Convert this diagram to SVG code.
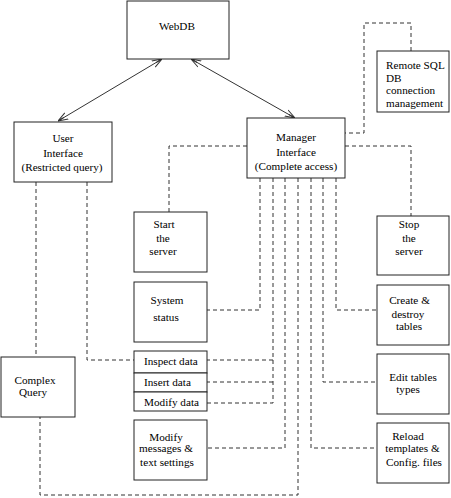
<svg xmlns="http://www.w3.org/2000/svg" width="451" height="498" viewBox="0 0 451 498">
<defs>
<style>
.box{fill:#fff;stroke:#222;stroke-width:1}
.t{font-family:'Liberation Serif','DejaVu Serif','Times New Roman',serif;font-size:11.2px;fill:#000}
.c{text-anchor:middle}
.d{fill:none;stroke:#333;stroke-width:1;stroke-dasharray:4,3}
.a{fill:none;stroke:#333;stroke-width:1}
</style>
<marker id="ah" viewBox="0 0 10 10" refX="10" refY="5" markerWidth="10" markerHeight="10" markerUnits="userSpaceOnUse" orient="auto-start-reverse">
<path d="M0,1.5 L10,5 L0,8.5 M3,5 L10,5" fill="none" stroke="#333" stroke-width="1"/>
</marker>
</defs>
<rect width="451" height="498" fill="#fff"/>
<g id="connectors">
<line class="a" x1="162" y1="59" x2="58" y2="121" marker-start="url(#ah)" marker-end="url(#ah)"/>
<line class="a" x1="191" y1="59" x2="295" y2="118" marker-start="url(#ah)" marker-end="url(#ah)"/>
<path class="d" d="M411,51 V23 H364 V133 H345"/>
<path class="d" d="M247,146 H169 V212"/>
<path class="d" d="M345,146 H411 V216"/>
<path class="d" d="M260,178 V310 H207"/>
<path class="d" d="M336,178 V310 H377"/>
<path class="d" d="M273,178 V403 H207"/>
<path class="d" d="M273,360 H207"/>
<path class="d" d="M273,382 H207"/>
<path class="d" d="M285,178 V448 H207"/>
<path class="d" d="M298,178 V495 H40 V417"/>
<path class="d" d="M311,178 V448 H377"/>
<path class="d" d="M323,178 V382 H377"/>
<path class="d" d="M36,182 V357"/>
<path class="d" d="M87,182 V360 H134"/>
</g>
<g id="webdb">
<rect class="box" x="127" y="1" width="102" height="58"/>
<text class="t c" x="177" y="29.5" font-family="Liberation Serif, serif">WebDB</text>
</g>
<g id="remote-sql">
<rect class="box" x="377" y="51" width="72" height="61"/>
<text class="t" x="386" y="69">Remote SQL</text>
<text class="t" x="386" y="81.5">DB</text>
<text class="t" x="386" y="94">connection</text>
<text class="t" x="386" y="107">management</text>
</g>
<g id="user-interface">
<rect class="box" x="14" y="122" width="98" height="60"/>
<text class="t c" x="63" y="142">User</text>
<text class="t c" x="63" y="157">Interface</text>
<text class="t c" x="62" y="171">(Restricted query)</text>
</g>
<g id="manager-interface">
<rect class="box" x="247" y="118" width="98" height="60"/>
<text class="t c" x="296" y="141">Manager</text>
<text class="t c" x="296" y="156">Interface</text>
<text class="t c" x="296" y="170">(Complete access)</text>
</g>
<g id="start-server">
<rect class="box" x="134" y="212" width="73" height="60"/>
<text class="t c" x="164" y="228">Start</text>
<text class="t c" x="163" y="242">the</text>
<text class="t c" x="163" y="255">server</text>
</g>
<g id="stop-server">
<rect class="box" x="377" y="216" width="72" height="59"/>
<text class="t c" x="409" y="228">Stop</text>
<text class="t c" x="409" y="242">the</text>
<text class="t c" x="409" y="255">server</text>
</g>
<g id="system-status">
<rect class="box" x="134" y="282" width="73" height="60"/>
<text class="t c" x="167" y="304">System</text>
<text class="t c" x="166" y="321">status</text>
</g>
<g id="create-destroy">
<rect class="box" x="377" y="285" width="72" height="60"/>
<text class="t c" x="409.5" y="304">Create &amp;</text>
<text class="t c" x="408" y="318">destroy</text>
<text class="t c" x="409" y="330">tables</text>
</g>
<g id="data-ops">
<rect class="box" x="134" y="351" width="73" height="22"/>
<rect class="box" x="134" y="373" width="73" height="19"/>
<rect class="box" x="134" y="392" width="73" height="19"/>
<text class="t" x="144" y="365">Inspect data</text>
<text class="t" x="144" y="386">Insert data</text>
<text class="t" x="144" y="405.5">Modify data</text>
</g>
<g id="complex-query">
<rect class="box" x="1" y="357" width="74" height="60"/>
<text class="t c" x="35" y="384">Complex</text>
<text class="t c" x="33" y="396">Query</text>
</g>
<g id="edit-tables">
<rect class="box" x="377" y="354" width="72" height="60"/>
<text class="t c" x="413" y="380.5">Edit tables</text>
<text class="t c" x="408" y="393">types</text>
</g>
<g id="modify-messages">
<rect class="box" x="134" y="420" width="73" height="60"/>
<text class="t c" x="166" y="440.5">Modify</text>
<text class="t c" x="166" y="452">messages &amp;</text>
<text class="t c" x="167" y="465.5">text settings</text>
</g>
<g id="reload-templates">
<rect class="box" x="377" y="423" width="72" height="60"/>
<text class="t c" x="408" y="440">Reload</text>
<text class="t c" x="412.5" y="452">templates &amp;</text>
<text class="t c" x="414" y="465.5">Config. files</text>
</g>
</svg>
